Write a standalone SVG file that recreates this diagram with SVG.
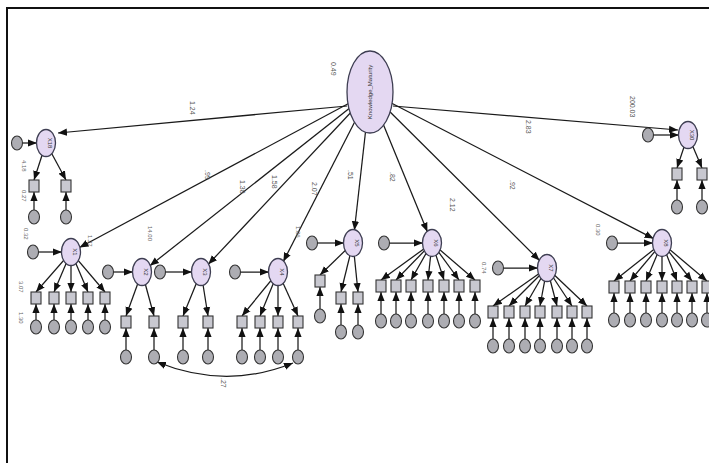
<svg xmlns="http://www.w3.org/2000/svg" width="709" height="463" viewBox="0 0 709 463">
<style>
.lat{fill:#e4d8f2;stroke:#3e3e52;stroke-width:1.3}
.err{fill:#adadb3;stroke:#333;stroke-width:1.1}
.box{fill:#c8c8d0;stroke:#333;stroke-width:1.1}
.c path{stroke:#1a1a1a;stroke-width:1.25;fill:none;marker-end:url(#ah)}
.t{font-family:"Liberation Sans",Arial,sans-serif;font-size:7px;fill:#555}
.s{font-family:"Liberation Sans",Arial,sans-serif;font-size:6px;fill:#666}
.lt{font-family:"Liberation Sans",Arial,sans-serif;font-size:6px;fill:#333;text-anchor:middle}
</style>
<defs>
<marker id="ah" viewBox="0 0 10 10" refX="10" refY="5" markerWidth="9" markerHeight="9" markerUnits="userSpaceOnUse" orient="auto-start-reverse"><path d="M0,1 L10,5 L0,9 z" fill="#111"/></marker>
</defs>
<rect x="7" y="8" width="712" height="470" fill="#fff" stroke="#111" stroke-width="2"/>
<g class="c" id="connectors">
<path d="M347,106 L58,133"/>
<path d="M393,106 L678,130"/>
<path d="M370,92 L79.5,247.5"/>
<path d="M370,92 L149.9,265.8"/>
<path d="M370,92 L208.3,264.3"/>
<path d="M370,92 L283.3,261.6"/>
<path d="M370,92 L354.4,230.2"/>
<path d="M370,92 L427.4,231.8"/>
<path d="M370,92 L539.6,260.6"/>
<path d="M370,92 L653.6,238.6"/>
<path d="M17,143 L37,143"/>
<path d="M46,143 L34,180"/><path d="M46,143 L66,180"/>
<path d="M34,210 L34,192"/><path d="M66,210 L66,192"/>
<path d="M648,135 L679,135"/>
<path d="M688,135 L677,168"/><path d="M688,135 L702,168"/>
<path d="M677,200 L677,180"/><path d="M702,200 L702,180"/>
<path d="M33,252 L62,252"/>
<path d="M71,252 L36,292"/><path d="M71,252 L54,292"/><path d="M71,252 L71,292"/><path d="M71,252 L88,292"/><path d="M71,252 L105,292"/>
<path d="M36,320 L36,304"/><path d="M54,320 L54,304"/><path d="M71,320 L71,304"/><path d="M88,320 L88,304"/><path d="M105,320 L105,304"/>
<path d="M108,272 L133,272"/>
<path d="M142,272 L126,316"/><path d="M142,272 L154,316"/>
<path d="M126,350 L126,328"/><path d="M154,350 L154,328"/>
<path d="M160,272 L192,272"/>
<path d="M201,272 L183,316"/><path d="M201,272 L208,316"/>
<path d="M183,350 L183,328"/><path d="M208,350 L208,328"/>
<path d="M235,272 L269,272"/>
<path d="M278,272 L242,316"/><path d="M278,272 L260,316"/><path d="M278,272 L278,316"/><path d="M278,272 L298,316"/>
<path d="M242,350 L242,328"/><path d="M260,350 L260,328"/><path d="M278,350 L278,328"/><path d="M298,350 L298,328"/>
<path d="M312,243 L344,243"/>
<path d="M353,243 L320,275"/><path d="M353,243 L341,292"/><path d="M353,243 L358,292"/>
<path d="M320,309 L320,287"/><path d="M341,325 L341,304"/><path d="M358,325 L358,304"/>
<path d="M384,243 L423,243"/>
<path d="M432,243 L381,280"/><path d="M432,243 L396,280"/><path d="M432,243 L411,280"/><path d="M432,243 L428,280"/><path d="M432,243 L444,280"/><path d="M432,243 L459,280"/><path d="M432,243 L475,280"/>
<path d="M381,314 L381,292"/><path d="M396,314 L396,292"/><path d="M411,314 L411,292"/><path d="M428,314 L428,292"/><path d="M444,314 L444,292"/><path d="M459,314 L459,292"/><path d="M475,314 L475,292"/>
<path d="M498,268 L538,268"/>
<path d="M547,268 L493,306"/><path d="M547,268 L509,306"/><path d="M547,268 L525,306"/><path d="M547,268 L540,306"/><path d="M547,268 L557,306"/><path d="M547,268 L572,306"/><path d="M547,268 L587,306"/>
<path d="M493,339 L493,318"/><path d="M509,339 L509,318"/><path d="M525,339 L525,318"/><path d="M540,339 L540,318"/><path d="M557,339 L557,318"/><path d="M572,339 L572,318"/><path d="M587,339 L587,318"/>
<path d="M612,243 L653,243"/>
<path d="M662,243 L614,281"/><path d="M662,243 L630,281"/><path d="M662,243 L646,281"/><path d="M662,243 L662,281"/><path d="M662,243 L677,281"/><path d="M662,243 L692,281"/><path d="M662,243 L707,281"/>
<path d="M614,313 L614,293"/><path d="M630,313 L630,293"/><path d="M646,313 L646,293"/><path d="M662,313 L662,293"/><path d="M677,313 L677,293"/><path d="M692,313 L692,293"/><path d="M707,313 L707,293"/>
<path d="M157,362 Q226,390 293,363" style="marker-start:url(#ah)"/>
</g>
<g id="labels">
<text class="t" transform="translate(331,62) rotate(90)">0.49</text>
<text class="t" transform="translate(190,101) rotate(90)">1.24</text>
<text class="t" transform="translate(526,120) rotate(90)">2.83</text>
<text class="t" transform="translate(630,96) rotate(90)">200.03</text>
<text class="t" transform="translate(205,170) rotate(90)">.99</text>
<text class="t" transform="translate(240,180) rotate(90)">1.38</text>
<text class="t" transform="translate(272,175) rotate(90)">1.58</text>
<text class="t" transform="translate(312,182) rotate(90)">2.07</text>
<text class="t" transform="translate(348,170) rotate(90)">.51</text>
<text class="t" transform="translate(390,172) rotate(90)">.82</text>
<text class="t" transform="translate(450,198) rotate(90)">2.12</text>
<text class="t" transform="translate(510,180) rotate(90)">.92</text>
<text class="t" transform="translate(221,378) rotate(90)">.27</text>
<text class="s" transform="translate(24,228) rotate(90)">0.32</text>
<text class="s" transform="translate(19,281) rotate(90)">3.07</text>
<text class="s" transform="translate(19,312) rotate(90)">1.30</text>
<text class="s" transform="translate(88,235) rotate(90)">1.27</text>
<text class="s" transform="translate(148,226) rotate(90)">14.00</text>
<text class="s" transform="translate(596,224) rotate(90)">0.30</text>
<text class="s" transform="translate(482,262) rotate(90)">0.74</text>
<text class="s" transform="translate(296,226) rotate(90)">1.06</text>
<text class="s" transform="translate(22,160) rotate(90)">4.18</text>
<text class="s" transform="translate(22,190) rotate(90)">0.27</text>
</g>
<g id="Knowledge_Maturity"><ellipse class="lat" cx="370" cy="92" rx="23" ry="41"/><text class="lt" font-size="7" transform="translate(372,92) rotate(-90)">Knowledge_Maturity</text></g>
<g id="X18"><ellipse class="lat" cx="46" cy="143" rx="9.5" ry="13.5"/><text class="lt" transform="translate(48,143) rotate(90)">X18</text><ellipse class="err" cx="17" cy="143" rx="5.5" ry="7"/><rect class="box" x="29" y="180" width="10" height="12"/><rect class="box" x="61" y="180" width="10" height="12"/><ellipse class="err" cx="34" cy="217" rx="5.5" ry="7"/><ellipse class="err" cx="66" cy="217" rx="5.5" ry="7"/></g>
<g id="X30"><ellipse class="lat" cx="688" cy="135" rx="9.5" ry="13.5"/><text class="lt" transform="translate(690,135) rotate(90)">X30</text><ellipse class="err" cx="648" cy="135" rx="5.5" ry="7"/><rect class="box" x="672" y="168" width="10" height="12"/><rect class="box" x="697" y="168" width="10" height="12"/><ellipse class="err" cx="677" cy="207" rx="5.5" ry="7"/><ellipse class="err" cx="702" cy="207" rx="5.5" ry="7"/></g>
<g id="X1"><ellipse class="lat" cx="71" cy="252" rx="9.5" ry="13.5"/><text class="lt" transform="translate(73,252) rotate(90)">X1</text><ellipse class="err" cx="33" cy="252" rx="5.5" ry="7"/>
<rect class="box" x="31" y="292" width="10" height="12"/><rect class="box" x="49" y="292" width="10" height="12"/><rect class="box" x="66" y="292" width="10" height="12"/><rect class="box" x="83" y="292" width="10" height="12"/><rect class="box" x="100" y="292" width="10" height="12"/>
<ellipse class="err" cx="36" cy="327" rx="5.5" ry="7"/><ellipse class="err" cx="54" cy="327" rx="5.5" ry="7"/><ellipse class="err" cx="71" cy="327" rx="5.5" ry="7"/><ellipse class="err" cx="88" cy="327" rx="5.5" ry="7"/><ellipse class="err" cx="105" cy="327" rx="5.5" ry="7"/></g>
<g id="X2"><ellipse class="lat" cx="142" cy="272" rx="9.5" ry="13.5"/><text class="lt" transform="translate(144,272) rotate(90)">X2</text><ellipse class="err" cx="108" cy="272" rx="5.5" ry="7"/>
<rect class="box" x="121" y="316" width="10" height="12"/><rect class="box" x="149" y="316" width="10" height="12"/>
<ellipse class="err" cx="126" cy="357" rx="5.5" ry="7"/><ellipse class="err" cx="154" cy="357" rx="5.5" ry="7"/></g>
<g id="X3"><ellipse class="lat" cx="201" cy="272" rx="9.5" ry="13.5"/><text class="lt" transform="translate(203,272) rotate(90)">X3</text><ellipse class="err" cx="160" cy="272" rx="5.5" ry="7"/>
<rect class="box" x="178" y="316" width="10" height="12"/><rect class="box" x="203" y="316" width="10" height="12"/>
<ellipse class="err" cx="183" cy="357" rx="5.5" ry="7"/><ellipse class="err" cx="208" cy="357" rx="5.5" ry="7"/></g>
<g id="X4"><ellipse class="lat" cx="278" cy="272" rx="9.5" ry="13.5"/><text class="lt" transform="translate(280,272) rotate(90)">X4</text><ellipse class="err" cx="235" cy="272" rx="5.5" ry="7"/>
<rect class="box" x="237" y="316" width="10" height="12"/><rect class="box" x="255" y="316" width="10" height="12"/><rect class="box" x="273" y="316" width="10" height="12"/><rect class="box" x="293" y="316" width="10" height="12"/>
<ellipse class="err" cx="242" cy="357" rx="5.5" ry="7"/><ellipse class="err" cx="260" cy="357" rx="5.5" ry="7"/><ellipse class="err" cx="278" cy="357" rx="5.5" ry="7"/><ellipse class="err" cx="298" cy="357" rx="5.5" ry="7"/></g>
<g id="X5"><ellipse class="lat" cx="353" cy="243" rx="9.5" ry="13.5"/><text class="lt" transform="translate(355,243) rotate(90)">X5</text><ellipse class="err" cx="312" cy="243" rx="5.5" ry="7"/>
<rect class="box" x="315" y="275" width="10" height="12"/><rect class="box" x="336" y="292" width="10" height="12"/><rect class="box" x="353" y="292" width="10" height="12"/>
<ellipse class="err" cx="320" cy="316" rx="5.5" ry="7"/><ellipse class="err" cx="341" cy="332" rx="5.5" ry="7"/><ellipse class="err" cx="358" cy="332" rx="5.5" ry="7"/></g>
<g id="X6"><ellipse class="lat" cx="432" cy="243" rx="9.5" ry="13.5"/><text class="lt" transform="translate(434,243) rotate(90)">X6</text><ellipse class="err" cx="384" cy="243" rx="5.5" ry="7"/>
<rect class="box" x="376" y="280" width="10" height="12"/><rect class="box" x="391" y="280" width="10" height="12"/><rect class="box" x="406" y="280" width="10" height="12"/><rect class="box" x="423" y="280" width="10" height="12"/><rect class="box" x="439" y="280" width="10" height="12"/><rect class="box" x="454" y="280" width="10" height="12"/><rect class="box" x="470" y="280" width="10" height="12"/>
<ellipse class="err" cx="381" cy="321" rx="5.5" ry="7"/><ellipse class="err" cx="396" cy="321" rx="5.5" ry="7"/><ellipse class="err" cx="411" cy="321" rx="5.5" ry="7"/><ellipse class="err" cx="428" cy="321" rx="5.5" ry="7"/><ellipse class="err" cx="444" cy="321" rx="5.5" ry="7"/><ellipse class="err" cx="459" cy="321" rx="5.5" ry="7"/><ellipse class="err" cx="475" cy="321" rx="5.5" ry="7"/></g>
<g id="X7"><ellipse class="lat" cx="547" cy="268" rx="9.5" ry="13.5"/><text class="lt" transform="translate(549,268) rotate(90)">X7</text><ellipse class="err" cx="498" cy="268" rx="5.5" ry="7"/>
<rect class="box" x="488" y="306" width="10" height="12"/><rect class="box" x="504" y="306" width="10" height="12"/><rect class="box" x="520" y="306" width="10" height="12"/><rect class="box" x="535" y="306" width="10" height="12"/><rect class="box" x="552" y="306" width="10" height="12"/><rect class="box" x="567" y="306" width="10" height="12"/><rect class="box" x="582" y="306" width="10" height="12"/>
<ellipse class="err" cx="493" cy="346" rx="5.5" ry="7"/><ellipse class="err" cx="509" cy="346" rx="5.5" ry="7"/><ellipse class="err" cx="525" cy="346" rx="5.5" ry="7"/><ellipse class="err" cx="540" cy="346" rx="5.5" ry="7"/><ellipse class="err" cx="557" cy="346" rx="5.5" ry="7"/><ellipse class="err" cx="572" cy="346" rx="5.5" ry="7"/><ellipse class="err" cx="587" cy="346" rx="5.5" ry="7"/></g>
<g id="X8"><ellipse class="lat" cx="662" cy="243" rx="9.5" ry="13.5"/><text class="lt" transform="translate(664,243) rotate(90)">X8</text><ellipse class="err" cx="612" cy="243" rx="5.5" ry="7"/>
<rect class="box" x="609" y="281" width="10" height="12"/><rect class="box" x="625" y="281" width="10" height="12"/><rect class="box" x="641" y="281" width="10" height="12"/><rect class="box" x="657" y="281" width="10" height="12"/><rect class="box" x="672" y="281" width="10" height="12"/><rect class="box" x="687" y="281" width="10" height="12"/><rect class="box" x="702" y="281" width="10" height="12"/>
<ellipse class="err" cx="614" cy="320" rx="5.5" ry="7"/><ellipse class="err" cx="630" cy="320" rx="5.5" ry="7"/><ellipse class="err" cx="646" cy="320" rx="5.5" ry="7"/><ellipse class="err" cx="662" cy="320" rx="5.5" ry="7"/><ellipse class="err" cx="677" cy="320" rx="5.5" ry="7"/><ellipse class="err" cx="692" cy="320" rx="5.5" ry="7"/><ellipse class="err" cx="707" cy="320" rx="5.5" ry="7"/></g>
</svg>
